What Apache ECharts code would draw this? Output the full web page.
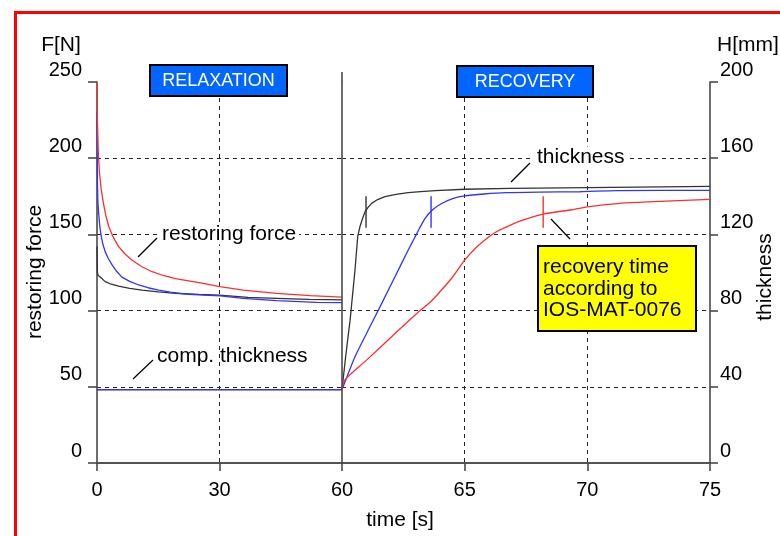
<!DOCTYPE html>
<html><head><meta charset="utf-8">
<script src="https://cdn.jsdelivr.net/npm/echarts@6/dist/echarts.min.js"></script>
<style>html,body{margin:0;padding:0;background:#fff}#c{width:780px;height:536px}</style>
</head><body><div id="c"></div>
<script>
// ---- tick labels ----
const xTicksRelax = [0, 30, 60];
const xTicksRecover = [60, 65, 70, 75];
const forceTicks = [0, 50, 100, 150, 200, 250];
const thickTicks = [0, 40, 80, 120, 160, 200];

// ---- relaxation phase: restoring force [N] ----
const forceTimeBlack = [0, 0.1, 0.3, 0.8, 2.0, 3.5, 5.3, 8, 11, 15, 19.2, 25, 30, 37, 44, 52, 60];
const forceBlack     = [142, 125, 123, 122, 119, 117.3, 116, 114.6, 113.5, 112.3, 111.3, 110.6, 110.2, 108.7, 108, 107.3, 107];
const forceTimeBlue  = [0, 0.1, 0.2, 0.4, 0.7, 1.05, 1.5, 2.0, 2.8, 3.7, 4.8, 6.1, 8, 10.2, 12.5, 15.1, 18, 21.6, 26, 30.2, 35.8, 44, 53.8, 60];
const forceBlue      = [230, 185, 172, 164, 155, 148.5, 143, 138.7, 134, 130, 125.8, 122, 119.2, 116.8, 115, 113.5, 112.1, 110.9, 110.2, 109.6, 108, 106.5, 105.4, 105.2];
const forceTimeRed   = [0, 0.05, 0.3, 0.56, 1.0, 1.6, 2.2, 2.9, 4.0, 5.3, 6.8, 8.6, 11, 13.5, 16, 19.2, 25.7, 30.1, 35.8, 44, 52.2, 60];
const forceRed       = [250, 230, 205, 192, 180, 170, 162, 155, 148, 142, 137.3, 133, 128.8, 125.5, 123.2, 121, 118, 115.7, 113.5, 111.3, 109.8, 108.8];

// ---- compressed thickness [mm] during relaxation ----
const compTime  = [0, 60];
const compBlack = [38.5, 38.5];
const compRed   = [38.5, 38.5];
const compBlue  = [38.5, 38.5];

// ---- recovery phase: thickness [mm] ----
const recTimeBlack = [60, 60.15, 60.33, 60.53, 60.64, 60.73, 60.84, 60.94, 61.07, 61.21, 61.45, 61.75, 62.2, 62.7, 63.2, 63.8, 65, 66.85, 70, 73, 75];
const recBlack     = [38.5, 56, 75, 101.3, 118.8, 124, 128.5, 131.9, 134.3, 136.3, 138.3, 139.8, 141, 141.9, 142.5, 143, 143.7, 144.2, 144.6, 145, 145.2];
const recTimeBlue  = [60, 60.53, 61.07, 61.62, 62.16, 62.7, 62.95, 63.15, 63.38, 63.66, 64.06, 64.54, 65, 65.8, 66.7, 68, 69.7, 71.2, 75];
const recBlue      = [38.5, 55.8, 69.8, 83.8, 97.8, 111.8, 118, 123, 128.3, 132.6, 136.2, 138.9, 140.2, 141.2, 141.9, 142.2, 142.4, 143, 143.1];
const recTimeRed   = [60, 60.12, 61, 62, 63, 63.6, 64, 64.5, 65, 65.5, 66.03, 66.35, 66.71, 67.39, 68.2, 69.3, 70, 71.33, 72.7, 75];
const recRed       = [38.5, 43.6, 54, 66, 78, 84.5, 90, 97.5, 106.5, 113.5, 119.2, 121.8, 124, 127.6, 130.7, 132.8, 134.5, 136.3, 137.2, 138.4];

// ---- recovery time markers (IOS-MAT-0076) ----
const markerTimes = { black: 60.98, blue: 63.63, red: 68.2 };
const markerRange = [123.5, 140];

const C_BLACK = '#333333', C_BLUE = '#3232ff', C_RED = '#ff2e2e';
const FONT = "'Liberation Sans', Arial, Helvetica, sans-serif";
const zip = (xs, ys) => xs.map((x, i) => [x, ys[i]]);
const axisCol = '#4a4a4a';
const dash = { show: true, showMinLine: false, showMaxLine: false, lineStyle: { color: '#222', width: 1, type: [4, 4] } };

function line(name, data, color, xi, yi, w, smooth) {
  return { name, type: 'line', data, xAxisIndex: xi, yAxisIndex: yi, showSymbol: false, symbol: 'none',
    smooth: smooth || false,
    lineStyle: { color, width: w || 1.3 }, itemStyle: { color }, animation: false, silent: true };
}

const chart = echarts.init(document.getElementById('c'), null, { renderer: 'canvas' });
const tickLabel = { color: '#000', fontSize: 20, fontFamily: FONT };

chart.setOption({
  animation: false,
  backgroundColor: '#fff',
  grid: [
    { left: 97, top: 82, width: 245, height: 381 },
    { left: 342, top: 82, width: 368, height: 381 }
  ],
  xAxis: [
    { type: 'value', gridIndex: 0, position: 'bottom', min: xTicksRelax[0], max: xTicksRelax[xTicksRelax.length - 1], interval: xTicksRelax[1] - xTicksRelax[0],
      axisLine: { show: true, lineStyle: { color: axisCol, width: 1.6 } },
      axisTick: { show: true, inside: false, length: 8, lineStyle: { color: axisCol, width: 1.6 } },
      axisLabel: Object.assign({ margin: 17, lineHeight: 20, showMaxLabel: false }, tickLabel),
      splitLine: dash },
    { type: 'value', gridIndex: 1, position: 'bottom', min: xTicksRecover[0], max: xTicksRecover[xTicksRecover.length - 1], interval: xTicksRecover[1] - xTicksRecover[0],
      axisLine: { show: true, lineStyle: { color: axisCol, width: 1.6 } },
      axisTick: { show: true, inside: false, length: 8, lineStyle: { color: axisCol, width: 1.6 } },
      axisLabel: Object.assign({ margin: 17, lineHeight: 20 }, tickLabel),
      splitLine: dash },
    { type: 'value', gridIndex: 0, position: 'top', min: 0, max: 60, z: 5,
      axisLine: { show: true, lineStyle: { color: axisCol, width: 1.6 } },
      axisTick: { show: false }, axisLabel: { show: false }, splitLine: { show: false } },
    { type: 'value', gridIndex: 1, position: 'top', min: 60, max: 75, z: 5,
      axisLine: { show: true, lineStyle: { color: axisCol, width: 1.6 } },
      axisTick: { show: false }, axisLabel: { show: false }, splitLine: { show: false } }
  ],
  yAxis: [
    { type: 'value', gridIndex: 0, position: 'left', min: forceTicks[0], max: forceTicks[forceTicks.length - 1], interval: forceTicks[1] - forceTicks[0],
      axisLine: { show: true, lineStyle: { color: axisCol, width: 1.6 } },
      axisTick: { show: true, inside: false, length: 9, lineStyle: { color: axisCol, width: 1.6 } },
      axisLabel: Object.assign({ margin: 15, verticalAlign: 'bottom', lineHeight: 20, padding: [0, 0, 2, 0] }, tickLabel),
      splitLine: dash },
    { type: 'value', gridIndex: 0, position: 'right', show: false, min: thickTicks[0], max: thickTicks[thickTicks.length - 1] },
    { type: 'value', gridIndex: 1, position: 'right', min: thickTicks[0], max: thickTicks[thickTicks.length - 1], interval: thickTicks[1] - thickTicks[0],
      axisLine: { show: true, lineStyle: { color: axisCol, width: 1.6 } },
      axisTick: { show: true, inside: false, length: 8, lineStyle: { color: axisCol, width: 1.6 } },
      axisLabel: Object.assign({ margin: 10, verticalAlign: 'bottom', lineHeight: 20, padding: [0, 0, 2, 0] }, tickLabel),
      splitLine: dash },
    { type: 'value', gridIndex: 1, position: 'left', min: forceTicks[0], max: forceTicks[forceTicks.length - 1], z: 5,
      axisLine: { show: true, lineStyle: { color: axisCol, width: 1.6 } },
      axisTick: { show: false }, axisLabel: { show: false }, splitLine: { show: false } }
  ],
  series: [
    line('comp. thickness (black)', zip(compTime, compBlack), C_BLACK, 0, 1),
    line('comp. thickness (red)', zip(compTime, compRed), C_RED, 0, 1),
    line('comp. thickness (blue)', zip(compTime, compBlue), C_BLUE, 0, 1),
    line('force (black)', zip(forceTimeBlack, forceBlack), C_BLACK, 0, 0),
    line('force (blue)', zip(forceTimeBlue, forceBlue), C_BLUE, 0, 0),
    line('force (red)', zip(forceTimeRed, forceRed), C_RED, 0, 0),
    line('thickness (black)', zip(recTimeBlack, recBlack), C_BLACK, 1, 2),
    line('thickness (blue)', zip(recTimeBlue, recBlue), C_BLUE, 1, 2, 1.3, 0.2),
    line('thickness (red)', zip(recTimeRed, recRed), C_RED, 1, 2, 1.3, 0.3),
    line('recovery time (black)', markerRange.map(v => [markerTimes.black, v]), C_BLACK, 1, 2, 1.4),
    line('recovery time (blue)', markerRange.map(v => [markerTimes.blue, v]), C_BLUE, 1, 2, 1.4),
    line('recovery time (red)', markerRange.map(v => [markerTimes.red, v]), C_RED, 1, 2, 1.4)
  ],
  graphic: [
    { type: 'rect', z: 200, shape: { x: 15.5, y: 12.5, width: 800, height: 600 }, style: { fill: 'none', stroke: '#ff0000', lineWidth: 3 } },
    // middle divider extension above the frame
    { type: 'line', z: 50, shape: { x1: 342, y1: 72, x2: 342, y2: 82 }, style: { stroke: axisCol, lineWidth: 1.6 } },
    // axis titles
    { type: 'text', z: 100, x: 61, y: 45, style: { text: 'F[N]', font: '21px ' + FONT, fill: '#000', align: 'center', verticalAlign: 'middle' } },
    { type: 'text', z: 100, x: 748, y: 45, style: { text: 'H[mm]', font: '21px ' + FONT, fill: '#000', align: 'center', verticalAlign: 'middle' } },
    { type: 'text', z: 100, x: 35, y: 272, rotation: Math.PI / 2, style: { text: 'restoring force', font: '21px ' + FONT, fill: '#000', align: 'center', verticalAlign: 'middle' } },
    { type: 'text', z: 100, x: 765, y: 277, rotation: Math.PI / 2, style: { text: 'thickness', font: '21px ' + FONT, fill: '#000', align: 'center', verticalAlign: 'middle' } },
    { type: 'text', z: 100, x: 400, y: 520, style: { text: 'time [s]', font: '21px ' + FONT, fill: '#000', align: 'center', verticalAlign: 'middle' } },
    // phase boxes
    { type: 'rect', z: 100, shape: { x: 150, y: 65, width: 137, height: 31 }, style: { fill: '#0066ff', stroke: '#000', lineWidth: 2 } },
    { type: 'text', z: 101, x: 218.5, y: 81, style: { text: 'RELAXATION', font: '18px ' + FONT, fill: '#fff', align: 'center', verticalAlign: 'middle' } },
    { type: 'rect', z: 100, shape: { x: 457, y: 66, width: 136, height: 31 }, style: { fill: '#0066ff', stroke: '#000', lineWidth: 2 } },
    { type: 'text', z: 101, x: 525, y: 82, style: { text: 'RECOVERY', font: '18px ' + FONT, fill: '#fff', align: 'center', verticalAlign: 'middle' } },
    // annotations
    { type: 'text', z: 100, x: 159, y: 234, style: { text: 'restoring force', font: '21px ' + FONT, fill: '#000', align: 'left', verticalAlign: 'middle', backgroundColor: '#fff', padding: [0, 3, 0, 3] } },
    { type: 'line', z: 100, shape: { x1: 138, y1: 257, x2: 157, y2: 238 }, style: { stroke: '#000', lineWidth: 1.2 } },
    { type: 'text', z: 100, x: 157, y: 356, style: { text: 'comp. thickness', font: '21px ' + FONT, fill: '#000', align: 'left', verticalAlign: 'middle' } },
    { type: 'line', z: 100, shape: { x1: 133, y1: 379, x2: 153, y2: 360 }, style: { stroke: '#000', lineWidth: 1.2 } },
    { type: 'text', z: 100, x: 533, y: 157, style: { text: 'thickness', font: '21px ' + FONT, fill: '#000', align: 'left', verticalAlign: 'middle', backgroundColor: '#fff', padding: [0, 4, 0, 4] } },
    { type: 'line', z: 100, shape: { x1: 511, y1: 182, x2: 530, y2: 163 }, style: { stroke: '#000', lineWidth: 1.2 } },
    { type: 'line', z: 100, shape: { x1: 551, y1: 219, x2: 570, y2: 239 }, style: { stroke: '#000', lineWidth: 1.2 } },
    { type: 'rect', z: 100, shape: { x: 538, y: 246, width: 158, height: 85 }, style: { fill: '#ffff00', stroke: '#000', lineWidth: 2 } },
    { type: 'text', z: 101, x: 543, y: 267, style: { text: 'recovery time', font: '21px ' + FONT, fill: '#000', align: 'left', verticalAlign: 'middle' } },
    { type: 'text', z: 101, x: 543, y: 289, style: { text: 'according to', font: '21px ' + FONT, fill: '#000', align: 'left', verticalAlign: 'middle' } },
    { type: 'text', z: 101, x: 543, y: 310, style: { text: 'IOS-MAT-0076', font: '21px ' + FONT, fill: '#000', align: 'left', verticalAlign: 'middle' } }
  ]
});
</script></body></html>
